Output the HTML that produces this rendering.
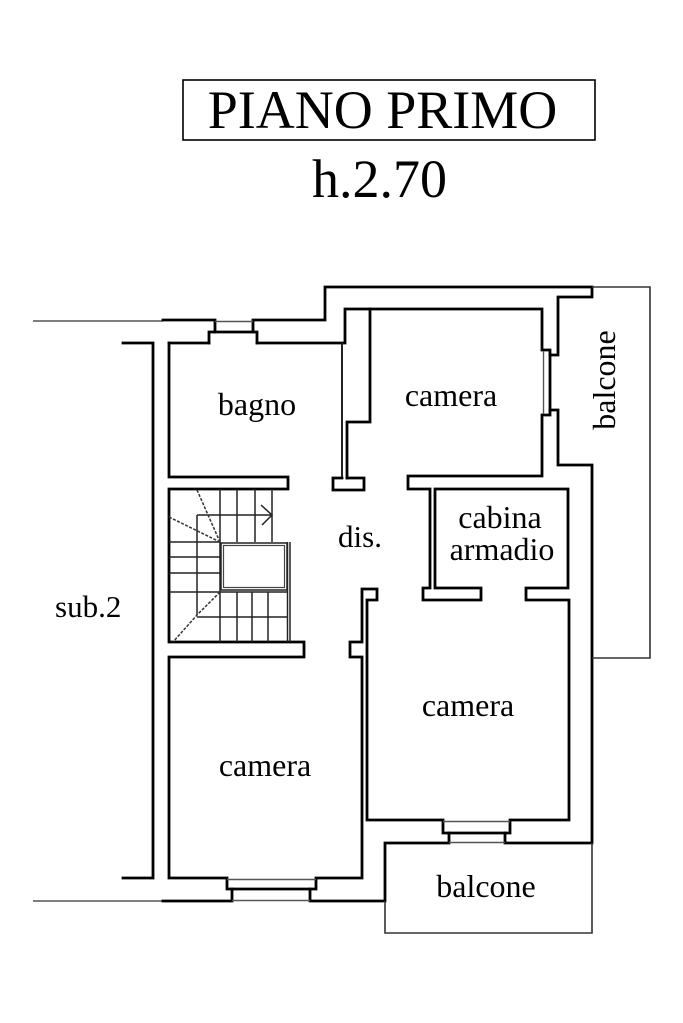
<!DOCTYPE html>
<html>
<head>
<meta charset="utf-8">
<style>
html,body{margin:0;padding:0;background:#fff;}
svg{display:block;}
text{font-family:"Liberation Serif","Times New Roman",serif;fill:#000;}
.w{fill:none;stroke:#000;stroke-width:2.8;stroke-linejoin:miter;stroke-linecap:square;}
.t{fill:none;stroke:#555;stroke-width:1.4;}
.b{fill:none;stroke:#333;stroke-width:1.6;}
.s{fill:none;stroke:#222;stroke-width:1.5;}
.d{fill:none;stroke:#333;stroke-width:1.5;stroke-dasharray:3 1.5;}
</style>
</head>
<body>
<svg width="683" height="1023" viewBox="0 0 683 1023" xmlns="http://www.w3.org/2000/svg">
  <!-- Title -->
  <rect x="183" y="80" width="412" height="60" fill="none" stroke="#000" stroke-width="1.6"/>
  <text x="382.5" y="128" font-size="54" text-anchor="middle">PIANO PRIMO</text>
  <text x="379.5" y="197" font-size="54" text-anchor="middle">h.2.70</text>

  <!-- thin extension lines left -->
  <path class="t" d="M33,321 H163"/>
  <path class="t" d="M33,901 H163"/>

  <!-- sub.2 bracket -->
  <path class="w" d="M123,343 H153 V878 H123"/>

  <!-- Outer top wall with bagno window -->
  <path class="w" d="M163,320 H215 V332"/>
  <path class="w" d="M253,332 V320 H325 V287 H592 V297 H558 V355 H550"/>
  <path class="w" d="M209,343 V332 H257 V343"/>
  <path class="t" d="M215,321.5 H253"/>

  <!-- Main inner loop -->
  <path class="w" d="M169,343 H209"/>
  <path class="w" d="M257,343 H345 V309 H542 V350 H550 V415 H542 V476 H408 V489 H430 V588 H423 V600 H481 V588 H435 V489 H568 V588 H526 V600 H569 V820 H510 V833 H443 V820 H367 V600 H377 V589 H362 V642 H350 V657 H362 V878 H316 V889 H227 V878 H169 V657 H304 V642 H169 V489 H288 V477 H169 V343"/>
  <path class="t" d="M543.5,351 V414"/>

  <!-- right outer wall -->
  <path class="w" d="M550,410 H558 V465 H592 V843 H505 V833"/>

  <!-- bottom outer wall -->
  <path class="w" d="M163,901 H232 V889"/>
  <path class="w" d="M310,889 V901 H385 V843 H449 V833"/>
  <path class="t" d="M227,879.5 H316"/>
  <path class="t" d="M232,900.5 H310"/>
  <path class="t" d="M443,821.5 H510"/>
  <path class="t" d="M449,842.5 H505"/>

  <!-- bagno / dis partition and T end -->
  <path class="w" d="M370,309 V422 H347 V478"/>
  <path class="s" d="M342,343 V478" style="stroke-width:2"/>
  <path class="w" d="M342,478 H333 V490 H364 V478 H347"/>

  <!-- Balconies -->
  <path class="b" d="M592,287 H650 V658 H592"/>
  <path class="b" d="M385,901 V933 H592 V843"/>

  <!-- Stairs -->
  <g>
    <path class="s" d="M220,489 V642"/>
    <path class="s" d="M237,489 V542"/>
    <path class="s" d="M255,489 V542"/>
    <path class="s" d="M272,489 V542"/>
    <path class="s" d="M197,515 V615"/>
    <path class="s" d="M197,515 H272"/>
    <path class="s" d="M169,542 H220"/>
    <path class="s" d="M169,557 H220"/>
    <path class="s" d="M169,573 H220"/>
    <path class="s" d="M169,592 H288"/>
    <path class="s" d="M197,617 H288"/>
    <path class="s" d="M237,592 V642"/>
    <path class="s" d="M252,592 V642"/>
    <path class="s" d="M268,592 V642"/>
    <rect x="221" y="543" width="66" height="47" fill="none" stroke="#222" stroke-width="1.5"/>
    <rect x="223.5" y="545.5" width="61" height="42" fill="none" stroke="#444" stroke-width="1.2"/>
    <path class="s" d="M287.5,542 V642"/>
    <path class="s" d="M290,542 V642"/>
    <path class="d" d="M197,490 L220,542"/>
    <path class="d" d="M169,517 L220,542"/>
    <path class="d" d="M220,592 L197,615 L173,642"/>
    <path class="s" d="M261,505 L272,515 L262,525"/>
  </g>

  <!-- Labels -->
  <text x="257" y="415" font-size="32" text-anchor="middle">bagno</text>
  <text x="451" y="406" font-size="32" text-anchor="middle">camera</text>
  <text x="360" y="547" font-size="31" text-anchor="middle">dis.</text>
  <text x="500" y="528" font-size="32" text-anchor="middle">cabina</text>
  <text x="502" y="560" font-size="32" text-anchor="middle">armadio</text>
  <text x="468" y="716" font-size="32" text-anchor="middle">camera</text>
  <text x="265" y="776" font-size="32" text-anchor="middle">camera</text>
  <text x="486" y="897" font-size="32" text-anchor="middle">balcone</text>
  <text transform="translate(615,380) rotate(-90)" font-size="32" text-anchor="middle">balcone</text>
  <text x="55" y="617" font-size="31">sub.2</text>
</svg>
</body>
</html>
